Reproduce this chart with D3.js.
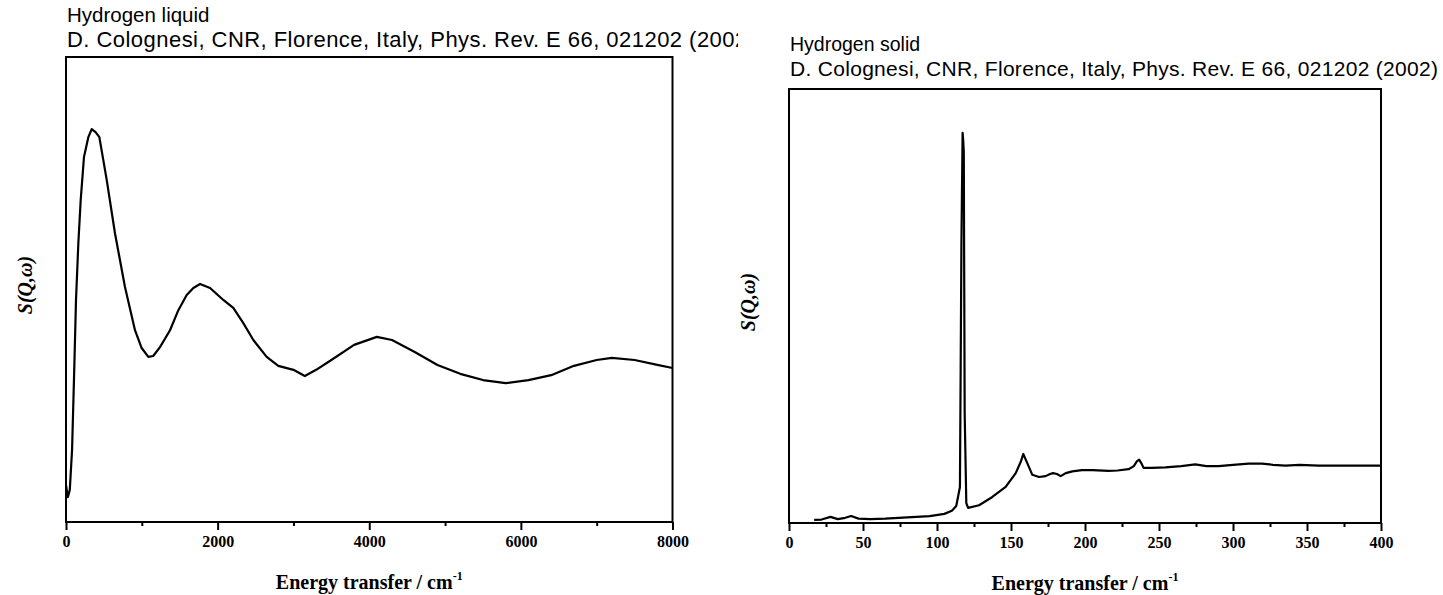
<!DOCTYPE html>
<html>
<head>
<meta charset="utf-8">
<script src="https://cdn.jsdelivr.net/npm/d3@7"></script>
<style>
  html, body { margin: 0; padding: 0; background: #ffffff; }
  svg { display: block; }
</style>
</head>
<body>
<svg id="chart" width="1443" height="595"></svg>
<script>
// ---------------- data ----------------
const liquidTitle = "Hydrogen liquid";
const solidTitle = "Hydrogen solid";
const sourceText = "D. Colognesi, CNR, Florence, Italy, Phys. Rev. E 66, 021202 (2002)";
const xAxisTitle = "Energy transfer / cm";
const xAxisSup = "-1";
const yAxisTitle = "S(Q,\u03C9)";

// liquid hydrogen spectrum (energy in cm^-1, S in arbitrary units)
const liquidEnergy = [0, 25, 50, 80, 105, 132, 163, 194, 237, 295, 339, 390, 440, 537, 646, 778, 910, 998, 1086, 1150,
  1240, 1372, 1482, 1592, 1680, 1768, 1900, 2075, 2207, 2339, 2471, 2647, 2800, 3000, 3150, 3300, 3500, 3800, 4100, 4300,
  4600, 4900, 5200, 5500, 5800, 6100, 6400, 6700, 7000, 7200, 7500, 7800, 8000];
const liquidS = [0.083, 0.056, 0.072, 0.162, 0.319, 0.499, 0.627, 0.724, 0.820, 0.865, 0.883, 0.876, 0.865, 0.769, 0.649, 0.528, 0.431, 0.391, 0.371, 0.373,
  0.393, 0.431, 0.476, 0.510, 0.526, 0.535, 0.526, 0.499, 0.481, 0.447, 0.409, 0.371, 0.351, 0.342, 0.328, 0.342, 0.364, 0.398, 0.416, 0.409,
  0.382, 0.353, 0.333, 0.319, 0.312, 0.319, 0.330, 0.351, 0.364, 0.369, 0.364, 0.353, 0.346];
const liquidTicks = [0, 2000, 4000, 6000, 8000];
const liquidMinorTicks = [1000, 3000, 5000, 7000];
const liquidYDomain = [0, 1.045];

// solid hydrogen spectrum
const solidEnergy = [17, 22, 28, 33, 38, 42, 47, 55, 65, 80, 95, 105, 110, 113, 115.5, 116, 116.5, 117.3, 117.7, 118.1,
  118.7, 119.8, 121, 128.4, 137.4, 146.4, 153.2, 156.6, 158.3, 161, 164.4, 168.9, 173.4, 176.4, 178.4, 181, 183.6, 187, 191.4, 197.9,
  205, 215.9, 222, 229.4, 233, 235, 236.6, 238, 239.6, 245, 254.3, 265, 274.5, 282, 290.3, 300, 310.6, 319.6, 327, 335.4,
  345, 357.9, 370, 385, 400];
const solidS = [0.007, 0.008, 0.014, 0.009, 0.012, 0.016, 0.010, 0.009, 0.010, 0.013, 0.016, 0.021, 0.028, 0.039, 0.083, 0.359, 0.645, 0.899, 0.882, 0.855,
  0.253, 0.046, 0.035, 0.041, 0.060, 0.083, 0.115, 0.141, 0.159, 0.138, 0.111, 0.106, 0.108, 0.113, 0.115, 0.113, 0.108, 0.115, 0.119, 0.122,
  0.122, 0.120, 0.121, 0.124, 0.131, 0.142, 0.146, 0.138, 0.127, 0.127, 0.128, 0.131, 0.135, 0.131, 0.131, 0.134, 0.137, 0.137, 0.134, 0.132,
  0.134, 0.132, 0.132, 0.132, 0.132];
const solidTicks = [0, 50, 100, 150, 200, 250, 300, 350, 400];
const solidMinorTicks = [25, 75, 125, 175, 225, 275, 325, 375];
const solidYDomain = [0, 1];

// ---------------- drawing ----------------
const svg = d3.select("#chart");
const defs = svg.append("defs");

function drawPanel(cfg) {
  const clipId = cfg.id + "-clip";
  defs.append("clipPath").attr("id", clipId)
    .append("rect").attr("x", cfg.clip[0]).attr("y", 0).attr("width", cfg.clip[1] - cfg.clip[0]).attr("height", 595);
  const g = svg.append("g").attr("clip-path", `url(#${clipId})`);

  const x = d3.scaleLinear().domain(cfg.xDomain).range([cfg.left, cfg.right]);
  const y = d3.scaleLinear().domain(cfg.yDomain).range([cfg.bottom, cfg.top]);

  // titles
  g.append("text").attr("x", cfg.left + 1).attr("y", cfg.title1Y)
    .attr("font-family", "'Liberation Sans', Arial, sans-serif").attr("font-size", cfg.titleSize).attr("fill", "#000")
    .text(cfg.title);
  g.append("text").attr("x", cfg.left + 1).attr("y", cfg.title2Y)
    .attr("font-family", "'Liberation Sans', Arial, sans-serif").attr("font-size", cfg.title2Size).attr("fill", "#000")
    .attr("textLength", cfg.title2Len).attr("lengthAdjust", "spacing")
    .text(sourceText);

  // data line
  const line = d3.line().x((d, i) => x(cfg.xs[i])).y(d => y(d)).curve(d3.curveLinear);
  g.append("path").datum(cfg.ys).attr("d", line)
    .attr("fill", "none").attr("stroke", "#000").attr("stroke-width", 2.2).attr("stroke-linejoin", "round");

  // frame
  g.append("rect").attr("x", cfg.left).attr("y", cfg.top)
    .attr("width", cfg.right - cfg.left).attr("height", cfg.bottom - cfg.top)
    .attr("fill", "none").attr("stroke", "#000").attr("stroke-width", 2);

  // bottom axis
  const axis = d3.axisBottom(x).tickValues(cfg.ticks).tickSize(8).tickPadding(6).tickFormat(d3.format("d"));
  const ag = g.append("g").attr("transform", `translate(0,${cfg.bottom})`).call(axis);
  ag.select(".domain").remove();
  ag.selectAll(".tick line").attr("stroke", "#000").attr("stroke-width", 2);
  ag.selectAll(".tick text")
    .attr("font-family", "'Liberation Serif', 'Times New Roman', serif").attr("font-weight", "bold")
    .attr("font-size", 16).attr("fill", "#000");
  const minor = d3.axisBottom(x).tickValues(cfg.minorTicks).tickSize(4).tickFormat("");
  const mg = g.append("g").attr("transform", `translate(0,${cfg.bottom})`).call(minor);
  mg.select(".domain").remove();
  mg.selectAll(".tick line").attr("stroke", "#000").attr("stroke-width", 2);

  // x axis title
  const xt = g.append("text").attr("x", (cfg.left + cfg.right) / 2).attr("y", cfg.xTitleY)
    .attr("text-anchor", "middle")
    .attr("font-family", "'Liberation Serif', 'Times New Roman', serif").attr("font-weight", "bold")
    .attr("font-size", 20).attr("fill", "#000");
  xt.append("tspan").text(xAxisTitle);
  xt.append("tspan").attr("dy", -9).attr("font-size", 12).text(xAxisSup);

  // y axis title
  g.append("text")
    .attr("transform", `translate(${cfg.yTitleX},${cfg.yTitleY}) rotate(-90)`)
    .attr("text-anchor", "middle")
    .attr("font-family", "'Liberation Serif', 'Times New Roman', serif").attr("font-weight", "bold")
    .attr("font-style", "italic").attr("font-size", 20).attr("fill", "#000")
    .text(yAxisTitle);
}

drawPanel({
  id: "liquid", clip: [0, 738], title: liquidTitle, titleSize: 20.5, title2Size: 22, title2Len: 688,
  title1Y: 22, title2Y: 47,
  left: 66, right: 672.5, top: 57, bottom: 522, yDomain: liquidYDomain,
  xDomain: [0, 8000], xs: liquidEnergy, ys: liquidS,
  ticks: liquidTicks, minorTicks: liquidMinorTicks,
  xTitleY: 589, yTitleX: 32, yTitleY: 285
});

drawPanel({
  id: "solid", clip: [740, 1443], title: solidTitle, titleSize: 19.5, title2Size: 21, title2Len: 648,
  title1Y: 51, title2Y: 76,
  left: 789, right: 1381, top: 89, bottom: 523, yDomain: solidYDomain,
  xDomain: [0, 400], xs: solidEnergy, ys: solidS,
  ticks: solidTicks, minorTicks: solidMinorTicks,
  xTitleY: 590, yTitleX: 755, yTitleY: 302
});
</script>
</body>
</html>
